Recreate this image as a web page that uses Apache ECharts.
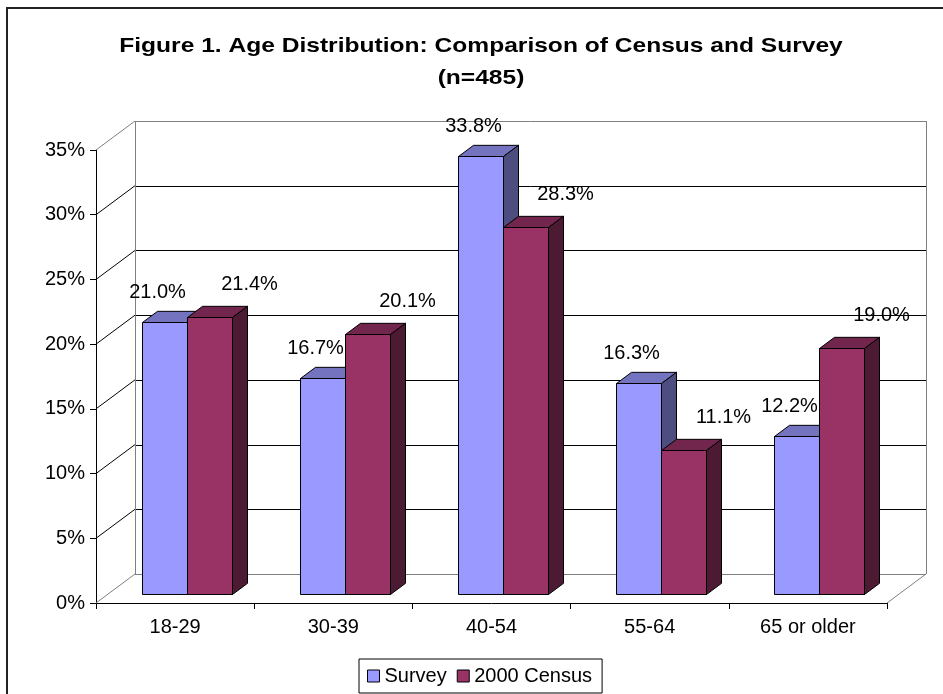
<!DOCTYPE html>
<html>
<head>
<meta charset="utf-8">
<style>
  html, body { margin: 0; padding: 0; background: #fff; }
  #chart { width: 943px; height: 694px; }
</style>
<script src="https://cdn.jsdelivr.net/npm/echarts@6/dist/echarts.min.js"></script>
</head>
<body>
<div id="chart"></div>
<script>
const categories = ["18-29", "30-39", "40-54", "55-64", "65 or older"];
const surveyValues = [21.0, 16.7, 33.8, 16.3, 12.2];
const censusValues = [21.4, 20.1, 28.3, 11.1, 19.0];
const yTicks = [0, 5, 10, 15, 20, 25, 30, 35];
const seriesNames = ["Survey", "2000 Census"];
const titleLines = ["Figure 1. Age Distribution: Comparison of Census and Survey", "(n=485)"];

const FONT = '"Liberation Sans", Arial, sans-serif';

// fake 3D: depth offset of the back wall, in pixels
const DX = 39;
const DY = -29;
// bars sit about a third of the way back, and are ~0.39 of the depth deep
const BAR_POS = 0.32;
const BAR_DEPTH = 0.385;

const faces = [
  { front: "#9999ff", top: "#7373bf", side: "#4d4d80" },
  { front: "#993366", top: "#73264d", side: "#4d1a33" },
];

const px = (v) => Math.round(v) + 0.5;

function line(x1, y1, x2, y2, color) {
  return {
    type: "line",
    shape: { x1: x1, y1: y1, x2: x2, y2: y2 },
    style: { stroke: color, lineWidth: 1 },
    silent: true,
  };
}

function renderWalls(params, api) {
  const cs = params.coordSys;
  const x0 = cs.x;
  const x1 = cs.x + cs.width;
  const ymin = yTicks[0];
  const ymax = yTicks[yTicks.length - 1];
  const children = [];
  yTicks.forEach((v) => {
    const y = api.coord([0, v])[1];
    const edge = v === ymin || v === ymax;
    if (!edge) {
      children.push(line(x0 + DX, px(y + DY), x1 + DX, px(y + DY), "#000"));
    }
    children.push(line(x0, y, x0 + DX, y + DY, edge ? "#808080" : "#000"));
  });
  const yb = api.coord([0, ymin])[1] + DY;
  const yt = api.coord([0, ymax])[1] + DY;
  children.push(line(px(x0 + DX), yt, px(x0 + DX), yb, "#808080"));
  children.push(line(px(x1 + DX), yt, px(x1 + DX), yb, "#808080"));
  children.push(line(x0 + DX, px(yt), x1 + DX, px(yt), "#808080"));
  children.push(line(x0 + DX, px(yb), x1 + DX, px(yb), "#808080"));
  children.push(line(x1, api.coord([0, ymin])[1], x1 + DX, yb, "#808080"));
  return { type: "group", children: children };
}

function barRenderer(idx) {
  const col = faces[idx];
  return function (params, api) {
    const i = api.value(0);
    const v = api.value(1);
    const top = api.coord([i, v]);
    const base = api.coord([i, 0]);
    const band = api.size([1, 0])[0];
    const w = Math.round(band * 0.2845);
    const c = Math.round(top[0] + DX * BAR_POS - 1);
    const L = idx === 0 ? c - w : c;
    const R = L + w;
    const T = Math.round(top[1] + DY * BAR_POS) + 0.5;
    const B = Math.round(base[1] + DY * BAR_POS) + 0.5;
    const bx = DX * BAR_DEPTH;
    const by = DY * BAR_DEPTH;
    const stroke = { stroke: "#000", lineWidth: 1, lineJoin: "miter" };
    const lx = (L + R) / 2 + (idx === 0 ? -7 : 40);
    const ly = T + (idx === 0 ? -30 : -33);
    return {
      type: "group",
      children: [
        {
          type: "rect",
          shape: { x: L + 0.5, y: T, width: w, height: B - T },
          style: Object.assign({ fill: col.front }, stroke),
        },
        {
          type: "polygon",
          shape: { points: [[L + 0.5, T], [R + 0.5, T], [R + 0.5 + bx, T + by], [L + 0.5 + bx, T + by]] },
          style: Object.assign({ fill: col.top }, stroke),
        },
        {
          type: "polygon",
          shape: { points: [[R + 0.5, T], [R + 0.5 + bx, T + by], [R + 0.5 + bx, B + by], [R + 0.5, B]] },
          style: Object.assign({ fill: col.side }, stroke),
        },
        {
          type: "text",
          style: {
            text: v.toFixed(1) + "%",
            x: lx,
            y: ly,
            fill: "#000",
            font: "20px " + FONT,
            align: "center",
            verticalAlign: "middle",
          },
        },
      ],
    };
  };
}

const chart = echarts.init(document.getElementById("chart"));

// the title in the source is stretched sideways, so draw it as scaled text
const titleGraphics = titleLines.map((t, k) => ({
  type: "text",
  x: 481,
  y: 46 + k * 32,
  scaleX: 1.17,
  silent: true,
  style: {
    text: t,
    font: "bold 21px " + FONT,
    fill: "#000",
    align: "center",
    verticalAlign: "middle",
  },
}));

chart.setOption({
  animation: false,
  backgroundColor: "#fff",
  graphic: [
    {
      type: "rect",
      shape: { x: 7, y: 8, width: 1200, height: 1000 },
      style: { fill: null, stroke: "#222", lineWidth: 2 },
      silent: true,
      z: -10,
    },
  ].concat(titleGraphics),
  legend: {
    data: seriesNames,
    left: 359,
    top: 659,
    icon: "rect",
    itemWidth: 12,
    itemHeight: 12,
    itemGap: 10,
    padding: [7, 10, 7, 8],
    borderColor: "#000",
    borderWidth: 1,
    backgroundColor: "#fff",
    itemStyle: { borderColor: "#000", borderWidth: 1 },
    textStyle: { fontFamily: FONT, fontSize: 20, color: "#000" },
  },
  grid: { left: 96, right: 56, top: 150, bottom: 91 },
  xAxis: {
    type: "category",
    data: categories,
    axisLine: { lineStyle: { color: "#000", width: 1 } },
    axisTick: { show: true, length: 6, lineStyle: { color: "#000" } },
    axisLabel: { fontFamily: FONT, fontSize: 20, color: "#000", margin: 14 },
    splitLine: { show: false },
  },
  yAxis: {
    type: "value",
    min: 0,
    max: 35,
    interval: 5,
    axisLine: { show: true, lineStyle: { color: "#000", width: 1 } },
    axisTick: { show: true, length: 6, lineStyle: { color: "#000" } },
    axisLabel: { fontFamily: FONT, fontSize: 20, color: "#000", margin: 11, formatter: "{value}%" },
    splitLine: { show: false },
  },
  series: [
    {
      type: "custom",
      name: "walls",
      silent: true,
      z: 1,
      data: [[0, 0]],
      renderItem: renderWalls,
    },
    {
      type: "custom",
      name: seriesNames[0],
      z: 2,
      itemStyle: { color: faces[0].front },
      data: surveyValues.map((v, i) => [i, v]),
      encode: { x: 0, y: 1 },
      renderItem: barRenderer(0),
    },
    {
      type: "custom",
      name: seriesNames[1],
      z: 3,
      itemStyle: { color: faces[1].front },
      data: censusValues.map((v, i) => [i, v]),
      encode: { x: 0, y: 1 },
      renderItem: barRenderer(1),
    },
  ],
});
</script>
</body>
</html>
